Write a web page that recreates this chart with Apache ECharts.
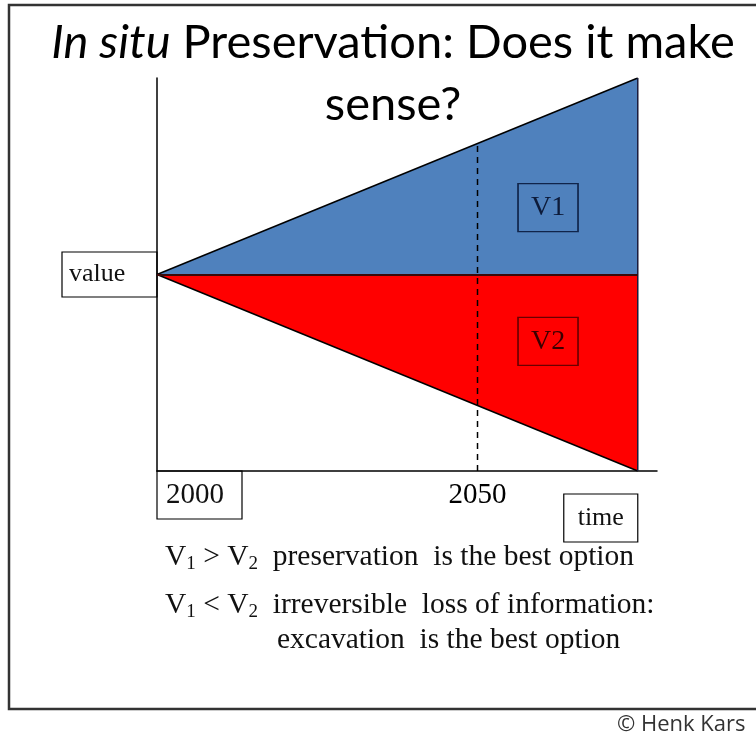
<!DOCTYPE html>
<html lang="en">
<head>
    <meta charset="UTF-8" />
    <title>In situ Preservation</title>
    <style>
        body { margin: 0; padding: 0; background: #fff; }
        .chart { width: 756px; height: 736px; }
    </style>
</head>
<body>
<div class="chart"></div>
<script src="https://cdn.jsdelivr.net/npm/echarts@6/dist/echarts.min.js"></script>
<script>
    // data
    const years = [2000, 2075];
    const v1Values = [0, 1];
    const v2Values = [0, -1];
    const markYear = 2050;
    const markTop = 0.67;          // where the dashed line meets the upper edge
    const tickLabels = ['2000', '2050'];
    const boxNames = ['V1', 'V2'];
    const boxPos = [[2061, 0.34], [2061, -0.34]];

    const serif = '"Liberation Serif", "Times New Roman", serif';
    const container = document.querySelector('.chart');
    const chart = echarts.init(container);

    const v1Data = years.map((y, i) => [y, v1Values[i]]);
    const v2Data = years.map((y, i) => [y, v2Values[i]]);
    const lastYear = years[years.length - 1];

    const option = {
        animation: false,
        backgroundColor: '#fff',
        grid: { left: 157, top: 78, width: 500, height: 393, outerBoundsMode: 'none' },
        xAxis: {
            type: 'value', min: 2000, max: 2078, interval: 50,
            axisLine: { onZero: false, lineStyle: { color: '#000', width: 1.5 } },
            axisTick: { show: false },
            splitLine: { show: false },
            axisLabel: {
                margin: 10, color: '#000', fontFamily: serif, fontSize: 29,
                formatter: v => v === markYear ? tickLabels[1] : ''
            }
        },
        yAxis: {
            type: 'value', min: -1, max: 1,
            axisLine: { show: true, onZero: false, lineStyle: { color: '#000', width: 1.5 } },
            axisTick: { show: false },
            splitLine: { show: false },
            axisLabel: { show: false }
        },
        series: [
            {
                name: boxNames[0], type: 'line', data: v1Data, symbol: 'none',
                lineStyle: { color: '#000', width: 1.5 },
                areaStyle: { color: '#4F81BD', origin: 0, opacity: 1 },
                markPoint: {
                    symbol: 'rect', symbolSize: [60, 48],
                    itemStyle: { color: 'rgba(0,0,0,0)', borderColor: '#10244a', borderWidth: 1.5 },
                    label: { show: true, formatter: boxNames[0], color: '#0d1b3a', fontFamily: serif, fontSize: 28 },
                    data: [{ coord: boxPos[0] }]
                },
                z: 2
            },
            {
                name: boxNames[1], type: 'line', data: v2Data, symbol: 'none',
                lineStyle: { color: '#000', width: 1.5 },
                areaStyle: { color: '#FF0000', origin: 0, opacity: 1 },
                markPoint: {
                    symbol: 'rect', symbolSize: [60, 48],
                    itemStyle: { color: 'rgba(0,0,0,0)', borderColor: '#6a0000', borderWidth: 1.5 },
                    label: { show: true, formatter: boxNames[1], color: '#3a0000', fontFamily: serif, fontSize: 28 },
                    data: [{ coord: boxPos[1] }]
                },
                markLine: {
                    symbol: 'none', silent: true, label: { show: false },
                    lineStyle: { color: '#3a0a0a', width: 2, type: 'solid' },
                    data: [[{ coord: [years[0], 0] }, { coord: [lastYear, 0] }]]
                },
                z: 2
            },
            {
                // right closing edge
                type: 'line', symbol: 'none', z: 3,
                data: [[lastYear, v1Values[1]], [lastYear, v2Values[1]]],
                lineStyle: { color: '#1a1a3a', width: 1.5 }
            },
            {
                // dashed 2050 line
                type: 'line', symbol: 'none', z: 4,
                data: [[markYear, -1], [markYear, markTop]],
                lineStyle: { color: '#000', width: 1.5, type: [6, 5] }
            }
        ]
    };
    chart.setOption(option);

    // annotation boxes placed from the chart's own scales
    const origin = chart.convertToPixel({ gridIndex: 0 }, [years[0], 0]);
    const bottom = chart.convertToPixel({ gridIndex: 0 }, [years[0], -1]);
    const right = chart.convertToPixel({ gridIndex: 0 }, [lastYear, -1]);

    const boxStyle = { fill: '#fff', stroke: '#000', lineWidth: 1.2 };
    const sub = { fontFamily: serif, fontSize: 19, lineHeight: 34, verticalAlign: 'bottom' };

    chart.setOption({
        graphic: [
            { type: 'rect', z: -10, shape: { x: 9, y: 5, width: 800, height: 704 },
              style: { fill: 'none', stroke: '#333', lineWidth: 2.5 } },
            { type: 'text', x: 393, y: 12, style: {
                text: '{i|In situ} Preservation: Does it make\nsense?',
                textAlign: 'center', fill: '#000',
                font: '47px Lato', lineHeight: 62,
                rich: { i: { fontStyle: 'italic', fontFamily: 'Lato', fontSize: 47, lineHeight: 62 } }
            } },
            // value
            { type: 'rect', shape: { x: 62, y: origin[1] - 22.5, width: origin[0] - 62, height: 45 }, style: boxStyle },
            { type: 'text', x: 69, y: origin[1], style: { text: 'value', font: '26px ' + serif, fill: '#111', textVerticalAlign: 'middle' } },
            // 2000
            { type: 'rect', shape: { x: bottom[0], y: bottom[1], width: 85, height: 48 }, style: boxStyle },
            { type: 'text', x: bottom[0] + 9, y: bottom[1] + 24, style: { text: tickLabels[0], font: '29px ' + serif, fill: '#111', textVerticalAlign: 'middle' } },
            // time
            { type: 'rect', shape: { x: right[0] - 74, y: right[1] + 23, width: 74, height: 48 }, style: boxStyle },
            { type: 'text', x: right[0] - 37, y: right[1] + 47, style: { text: 'time', font: '26px ' + serif, fill: '#111', textAlign: 'center', textVerticalAlign: 'middle' } },
            // conclusions
            { type: 'text', x: 165, y: 557, style: {
                text: 'V{s|1} > V{s|2}  preservation  is the best option',
                font: '29.5px ' + serif, fill: '#111', lineHeight: 34, textVerticalAlign: 'middle', rich: { s: sub }
            } },
            { type: 'text', x: 165, y: 605, style: {
                text: 'V{s|1} < V{s|2}  irreversible  loss of information:',
                font: '29.5px ' + serif, fill: '#111', lineHeight: 34, textVerticalAlign: 'middle', rich: { s: sub }
            } },
            { type: 'text', x: 277, y: 640, style: {
                text: 'excavation  is the best option',
                font: '29.5px ' + serif, fill: '#111', textVerticalAlign: 'middle'
            } },
            { type: 'text', x: 617, y: 725, style: {
                text: '© Henk Kars', font: '22px "Open Sans"', fill: '#333', textVerticalAlign: 'middle'
            } }
        ]
    });
</script>
</body>
</html>
